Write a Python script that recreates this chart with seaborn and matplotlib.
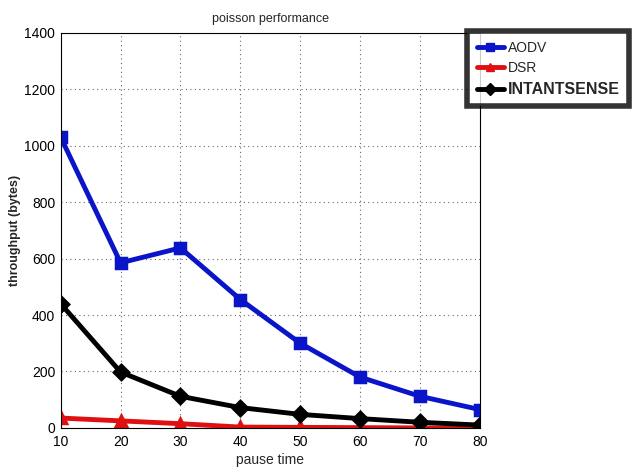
import matplotlib
matplotlib.use("Agg")
import matplotlib.pyplot as plt
import seaborn as sns
import pandas as pd
from matplotlib.lines import Line2D

pause_time = [10, 20, 30, 40, 50, 60, 70, 80]
aodv = [1030, 585, 638, 455, 300, 180, 112, 65]
dsr = [35, 25, 15, 3, 2, 1, 0, 0]
intantsense = [440, 198, 112, 72, 48, 33, 20, 10]
series_names = ["AODV", "DSR", "INTANTSENSE"]
colors = ["#0a14c8", "#e01010", "#000000"]
markers = ["s", "^", "D"]

df = pd.DataFrame({
    "pause time": pause_time * 3,
    "throughput": aodv + dsr + intantsense,
    "protocol": [n for n in series_names for _ in pause_time],
})

sns.set_style("white")
plt.rcParams["font.family"] = ["Liberation Sans", "DejaVu Sans"]

fig = plt.figure(figsize=(6.39, 4.76), dpi=100)
ax = fig.add_axes([0.095, 0.101, 0.656, 0.830])

sns.lineplot(data=df, x="pause time", y="throughput", hue="protocol",
             style="protocol", palette=dict(zip(series_names, colors)),
             markers=dict(zip(series_names, markers)), dashes=False,
             linewidth=3.5, markersize=7, markeredgewidth=2.5,
             ax=ax, legend=False)
for line, c in zip(ax.get_lines(), colors):
    line.set_markeredgecolor(c)

ax.set_xlim(10, 80)
ax.set_ylim(0, 1400)
ax.set_xticks(pause_time)
ax.set_yticks(range(0, 1401, 200))
ax.grid(True, color="#666666", linestyle=(0, (1, 3)), linewidth=0.8)
for s in ax.spines.values():
    s.set_color("black")
    s.set_linewidth(0.8)
ax.tick_params(axis="both", labelsize=10, length=0, colors="black")
ax.tick_params(axis="y", pad=4)
ax.tick_params(axis="x", pad=5)

ax.set_title("poisson performance", fontsize=9, pad=8)
ax.set_xlabel("pause time", fontsize=10, labelpad=3)
ax.set_ylabel("throughput (bytes)", fontsize=9, fontweight="bold", labelpad=2)

handles = [Line2D([], [], color=c, marker=m, linewidth=3.5, markersize=6)
           for c, m in zip(colors, markers)]
leg = fig.legend(handles, series_names, loc="upper left",
                 bbox_to_anchor=(0.724, 0.943), frameon=True, fancybox=False,
                 fontsize=10, handlelength=2.0, handletextpad=0.25,
                 labelspacing=0.45, borderpad=0.7, borderaxespad=0.3,
                 edgecolor="black")
leg.get_frame().set_linewidth(4)
leg.get_texts()[2].set_fontweight("bold")
leg.get_texts()[2].set_fontsize(11.5)

fig.savefig("out.png", dpi=100)
